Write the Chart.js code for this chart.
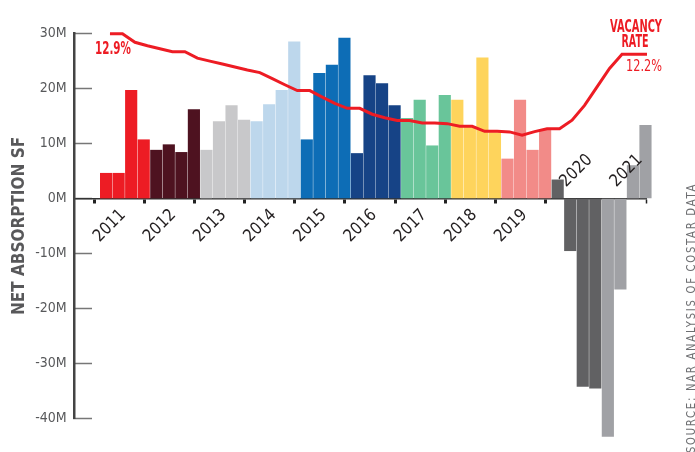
<!DOCTYPE html>
<html>
<head>
<meta charset="utf-8">
<title>Net Absorption and Vacancy Rate</title>
<script src="https://cdn.jsdelivr.net/npm/chart.js"></script>
<style>
    html, body { margin: 0; padding: 0; background: #fff; }
    canvas { display: block; }
</style>
</head>
<body>
<canvas id="absorption-chart" width="695" height="452"></canvas>
<script>
// Chart data
const years = ['2011', '2012', '2013', '2014', '2015', '2016', '2017', '2018', '2019', '2020', '2021'];

// quarterly net absorption, million SF (4 values per year)
const netAbsorption = [
    4.6, 4.6, 19.7, 10.7,
    8.8, 9.8, 8.4, 16.2,
    8.8, 14.0, 16.9, 14.3,
    14.0, 17.1, 19.7, 28.5,
    10.7, 22.8, 24.3, 29.2,
    8.2, 22.4, 20.9, 16.9,
    14.6, 17.9, 9.6, 18.8,
    17.9, 13.1, 25.6, 12.0,
    7.2, 17.9, 8.8, 12.5,
    3.4, -9.5, -34.2, -34.5,
    -43.3, -16.5, 6.0, 13.3
];

// quarterly vacancy rate, %
const vacancyRate = [
    12.9, 12.9, 12.61, 12.49,
    12.39, 12.29, 12.29, 12.07,
    11.97, 11.87, 11.77, 11.67,
    11.58, 11.38, 11.17, 10.97,
    10.97, 10.75, 10.54, 10.37,
    10.37, 10.17, 10.05, 9.96,
    9.96, 9.87, 9.87, 9.85,
    9.76, 9.76, 9.59, 9.59,
    9.57, 9.46, 9.58, 9.68,
    9.68, 9.97, 10.47, 11.1,
    11.72, 12.2, 12.2, 12.2
];

const yTickValues = [-40, -30, -20, -10, 0, 10, 20, 30];

const yearColors = [
    '#ED1C24', '#4E1220', '#C8C8CA', '#BDD7EC', '#0D6DB6', '#164386',
    '#69C59A', '#FED45C', '#F28B88', '#616163', '#A0A1A5'
];

const FONT = "'Liberation Sans Narrow', 'DejaVu Sans Condensed', 'Liberation Sans', sans-serif";
const RED = '#ED1C24';

// text helper: optional rotation, optional fit to a given length
function drawText(ctx, text, x, y, opt) {
    ctx.save();
    ctx.font = opt.font;
    ctx.fillStyle = opt.color;
    ctx.textAlign = opt.align || 'left';
    ctx.textBaseline = opt.baseline || 'middle';
    if (opt.spacing) ctx.letterSpacing = opt.spacing;
    ctx.translate(x, y);
    if (opt.rotation) ctx.rotate(opt.rotation);
    if (opt.width) {
        const w = ctx.measureText(text).width;
        ctx.scale(opt.width / w, 1);
    }
    ctx.fillText(text, 0, 0);
    ctx.restore();
}

// year labels, vacancy labels and source note
const labelPlugin = {
    id: 'labels',
    afterDraw(chart) {
        const ctx = chart.ctx;
        const xs = chart.scales.x;
        const ys = chart.scales.y;
        const xl = chart.scales.xLine;
        const yr = chart.scales.yRate;
        const y0 = ys.getPixelForValue(0);

        years.forEach((label, i) => {
            const cx = xs.getPixelForValue(i * 4 + 1.5);
            // years with big negative quarters get their label above the axis
            const below = netAbsorption.slice(i * 4, i * 4 + 4).every(v => v >= -1);
            const ax = below ? cx + 4 : cx + 19;
            const ay = below ? y0 + 14 : y0 - 41;
            drawText(ctx, label, ax, ay, {
                font: '17px ' + FONT, color: '#231F20', align: 'right',
                rotation: -Math.PI / 4, width: 38
            });
        });

        const last = vacancyRate.length - 1;
        const sx = xl.getPixelForValue(0);
        const sy = yr.getPixelForValue(vacancyRate[0]);
        const ex = xl.getPixelForValue(last);
        const ey = yr.getPixelForValue(vacancyRate[last]);

        drawText(ctx, vacancyRate[0].toFixed(1) + '%', sx - 15, sy + 16, {
            font: 'bold 17px ' + FONT, color: RED, align: 'left', width: 36
        });
        drawText(ctx, 'VACANCY', ex - 11, ey - 27, {
            font: 'bold 17px ' + FONT, color: RED, align: 'center', width: 52
        });
        drawText(ctx, 'RATE', ex - 12, ey - 12, {
            font: 'bold 17px ' + FONT, color: RED, align: 'center', width: 27
        });
        drawText(ctx, vacancyRate[last].toFixed(1) + '%', ex + 15, ey + 12.5, {
            font: '15px ' + FONT, color: RED, align: 'right', width: 36
        });

        drawText(ctx, 'SOURCE: NAR ANALYSIS OF COSTAR DATA', 695, 183, {
            font: '13px ' + FONT, color: '#6D6E71', align: 'right', baseline: 'alphabetic',
            rotation: -Math.PI / 2, spacing: '2px', width: 270
        });
    }
};

const chartCanvas = document.getElementById('absorption-chart');

new Chart(chartCanvas.getContext('2d'), {
    type: 'bar',
    data: {
        datasets: [
            {
                type: 'line',
                label: 'Vacancy Rate',
                data: vacancyRate.map((v, i) => ({ x: i, y: v })),
                xAxisID: 'xLine',
                yAxisID: 'yRate',
                borderColor: RED,
                borderWidth: 3,
                pointRadius: 0,
                tension: 0,
                clip: false,
                order: 0
            },
            {
                label: 'Net Absorption SF',
                data: netAbsorption.map((v, i) => ({ x: i, y: v })),
                xAxisID: 'x',
                yAxisID: 'y',
                backgroundColor: netAbsorption.map((v, i) => yearColors[Math.floor(i / 4)]),
                borderWidth: 0,
                barThickness: 11.5,
                clip: false,
                order: 1
            }
        ]
    },
    options: {
        responsive: false,
        animation: false,
        layout: {
            padding: { left: 0, top: 24.5, right: 49, bottom: 23.3 }
        },
        plugins: {
            legend: { display: false },
            tooltip: { enabled: false }
        },
        scales: {
            x: {
                type: 'linear',
                position: { y: 0 },
                min: -2.1,
                max: 43.5,
                offset: false,
                z: 1,
                afterBuildTicks: (axis) => {
                    // tick marks at the year boundaries, a doubled mark between 2020 and 2021
                    const ticks = [];
                    for (let i = 0; i <= years.length; i++) {
                        const v = i * 4 - 0.5;
                        if (i === years.length - 1) {
                            ticks.push({ value: v - 0.12 }, { value: v + 0.12 });
                        } else {
                            ticks.push({ value: v });
                        }
                    }
                    axis.ticks = ticks;
                },
                afterFit: (axis) => { axis.height = 0; },
                ticks: { display: false },
                grid: {
                    offset: false,
                    drawOnChartArea: false,
                    tickLength: 4,
                    tickColor: '#222',
                    tickWidth: (c) => (c.index >= 10 ? 1.5 : 3)
                },
                border: { color: '#333', width: 1.5 }
            },
            xLine: {
                type: 'linear',
                display: false,
                offset: false,
                min: -2.88,
                max: 42.92
            },
            y: {
                type: 'linear',
                position: 'left',
                min: -40,
                max: 30,
                afterBuildTicks: (axis) => {
                    axis.ticks = yTickValues.map(v => ({ value: v }));
                },
                afterFit: (axis) => { axis.width = 74; },
                ticks: {
                    padding: 25.3,
                    color: '#58595B',
                    font: { family: FONT, size: 14 },
                    callback: (v) => v + 'M'
                },
                grid: {
                    drawOnChartArea: false,
                    tickLength: -18,
                    tickColor: '#777',
                    tickWidth: 1.5
                },
                border: { color: '#444', width: 2.5 },
                title: {
                    display: true,
                    text: 'NET ABSORPTION SF',
                    color: '#58585A',
                    font: { family: FONT, size: 17, weight: 'bold' },
                    padding: { top: 9, bottom: 0 }
                }
            },
            yRate: {
                type: 'linear',
                position: 'right',
                display: false,
                min: -0.14,
                max: 12.9
            }
        }
    },
    plugins: [labelPlugin]
});
</script>
</body>
</html>
